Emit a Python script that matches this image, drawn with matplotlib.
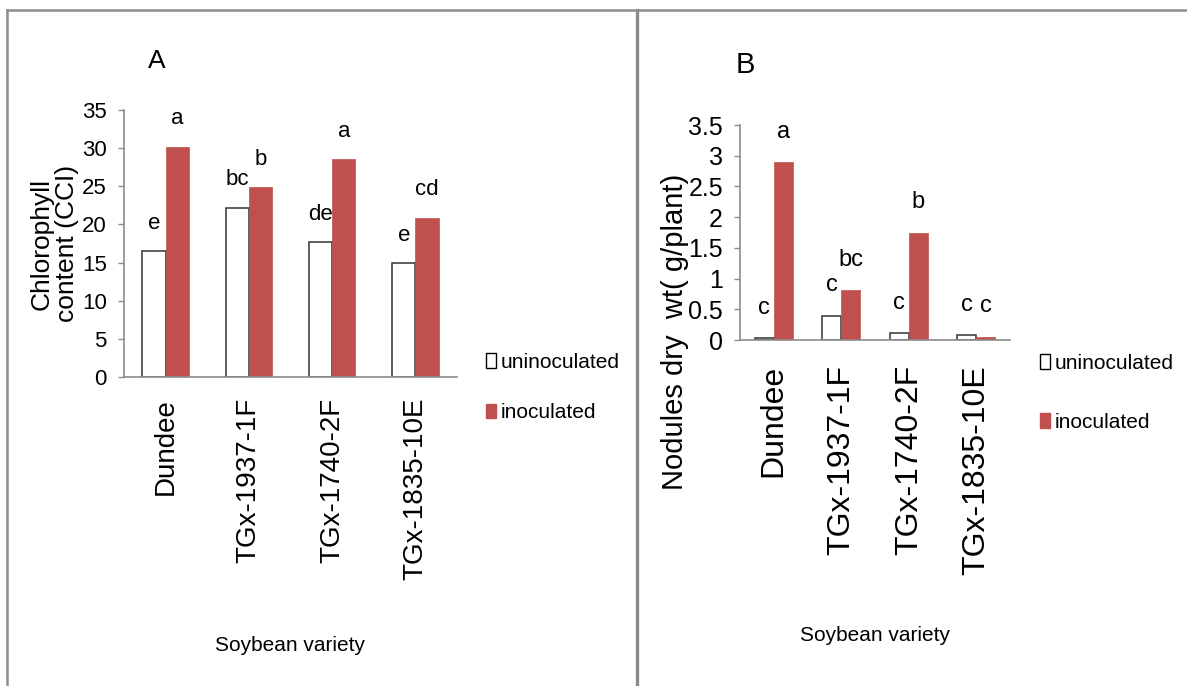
import numpy as np
import matplotlib
matplotlib.use('Agg')
import matplotlib.pyplot as plt
from matplotlib.patches import Patch
from matplotlib.lines import Line2D
from matplotlib.ticker import FuncFormatter

# soybean varieties (x categories)
varieties = ['Dundee', 'TGx-1937-1F', 'TGx-1740-2F', 'TGx-1835-10E']

# chlorophyll content (CCI)
chl_uninoc = [16.5, 22.2, 17.7, 14.9]
chl_inoc = [30.2, 24.9, 28.6, 20.9]
chl_uninoc_letters = ['e', 'bc', 'de', 'e']
chl_inoc_letters = ['a', 'b', 'a', 'cd']

# nodule dry weight (g/plant)
nod_uninoc = [0.03, 0.39, 0.11, 0.08]
nod_inoc = [2.89, 0.81, 1.75, 0.05]
nod_uninoc_letters = ['c', 'c', 'c', 'c']
nod_inoc_letters = ['a', 'bc', 'b', 'c']

series_names = ['uninoculated', 'inoculated']

plt.rcParams['font.family'] = ['Liberation Sans', 'DejaVu Sans']

red = '#C0504D'
axis_grey = '#8c8c8c'
W, H = 1187, 686

fig = plt.figure(figsize=(W / 100, H / 100), dpi=100)


def px_box(left, right, top, bottom):
    return [left / W, 1 - bottom / H, (right - left) / W, (bottom - top) / H]


def bar_panel(rect, uninoc, inoc, u_letters, i_letters, ymax, ystep,
              tick_size, cat_size, letter_size, letter_off, cat_pad):
    ax = fig.add_axes(rect)
    x = np.arange(len(varieties)) + 0.5
    w = 0.28
    b1 = ax.bar(x - w / 2, uninoc, w, color='white', edgecolor='#333333',
                linewidth=1.1, label=series_names[0])
    b2 = ax.bar(x + w / 2, inoc, w, color=red, edgecolor=red,
                linewidth=0.5, label=series_names[1])

    # significance letters over the bars
    for rects, letters in ((b1, u_letters), (b2, i_letters)):
        for r, lt in zip(rects, letters):
            ax.annotate(lt, (r.get_x() + r.get_width() / 2, r.get_height()),
                        xytext=(0, letter_off), textcoords='offset points',
                        ha='center', va='center', fontsize=letter_size)

    ax.set_xlim(0, len(varieties))
    ax.set_ylim(0, ymax)
    ax.set_yticks(np.arange(0, ymax + ystep / 2, ystep))
    ax.yaxis.set_major_formatter(FuncFormatter(lambda v, p: f'{v:g}'))
    ax.set_xticks(x)
    ax.set_xticklabels(varieties, rotation=90, fontsize=cat_size)
    ax.tick_params(axis='x', length=0, pad=cat_pad)
    ax.tick_params(axis='y', length=4.3, width=1, color=axis_grey, pad=8,
                   labelsize=tick_size)
    for s in ['top', 'right']:
        ax.spines[s].set_visible(False)
    for s in ['left', 'bottom']:
        ax.spines[s].set_color(axis_grey)
        ax.spines[s].set_linewidth(1.2)
    return ax


# A: chlorophyll
axA = bar_panel(px_box(124, 457, 110, 377), chl_uninoc, chl_inoc,
                chl_uninoc_letters, chl_inoc_letters, 35, 5,
                tick_size=16, cat_size=20, letter_size=16, letter_off=20, cat_pad=15)
axA.set_ylabel('Chlorophyll\ncontent (CCI)', fontsize=19, linespacing=1.05)
axA.yaxis.set_label_coords((79 - 124) / 333, 0.5)
axA.set_xlabel('Soybean variety', fontsize=15)
axA.xaxis.set_label_coords(0.5, (377 - 636) / 267)

# B: nodule dry weight
axB = bar_panel(px_box(740, 1010, 125, 340), nod_uninoc, nod_inoc,
                nod_uninoc_letters, nod_inoc_letters, 3.5, 0.5,
                tick_size=18, cat_size=23, letter_size=17, letter_off=22, cat_pad=18)
axB.set_ylabel('Nodules dry  wt( g/plant)', fontsize=21)
axB.yaxis.set_label_coords((689 - 740) / 270, (340 - 332) / 215)
axB.set_xlabel('Soybean variety', fontsize=15)
axB.xaxis.set_label_coords(0.5, (340 - 626) / 215)

# legends
handles = [Patch(facecolor='white', edgecolor='black', linewidth=1.0),
           Patch(facecolor=red, edgecolor=red)]
for ax, lx, ly, spacing in ((axA, 486, 353, 1.5), (axB, 1040, 354, 1.9)):
    ax.legend(handles, series_names, loc='upper left',
              bbox_to_anchor=(lx / W, 1 - ly / H), bbox_transform=fig.transFigure,
              frameon=False, borderpad=0, borderaxespad=0,
              handlelength=0.5, handleheight=0.72, handletextpad=0.2,
              labelspacing=spacing, prop={'size': 15})

# panel labels
fig.text(157 / W, 1 - 61 / H, 'A', fontsize=19, ha='center', va='center')
fig.text(745 / W, 1 - 65 / H, 'B', fontsize=21, ha='center', va='center')

# panel frames
frame = dict(color=axis_grey, transform=fig.transFigure)
fig.add_artist(Line2D([7 / W, 1], [1 - 10 / H, 1 - 10 / H], linewidth=1.8, **frame))
fig.add_artist(Line2D([7 / W, 7 / W], [0, 1 - 10 / H], linewidth=1.8, **frame))
fig.add_artist(Line2D([637 / W, 637 / W], [0, 1 - 10 / H], linewidth=2.4, **frame))

fig.savefig('out.png', dpi=100)
